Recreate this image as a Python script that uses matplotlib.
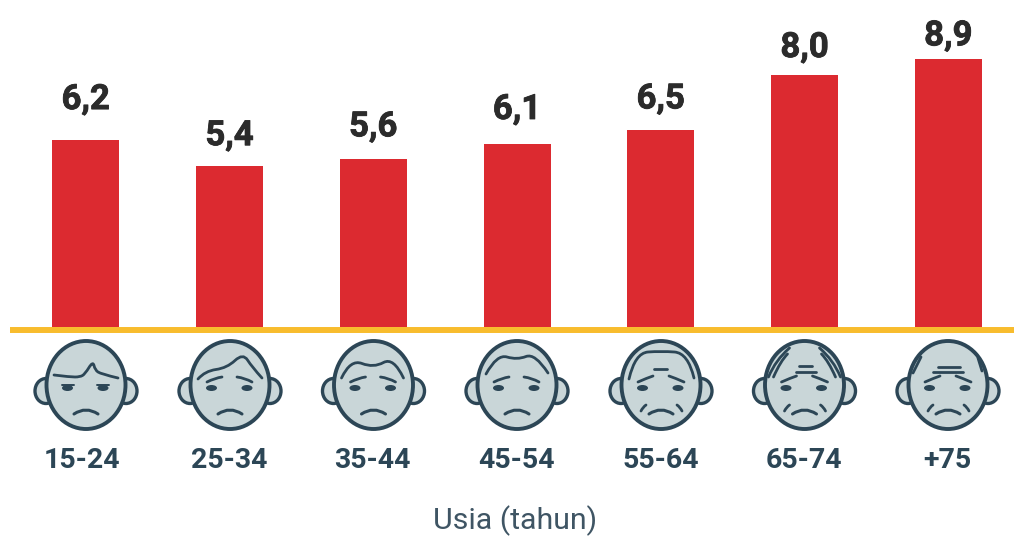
import matplotlib
matplotlib.use("Agg")
import matplotlib.pyplot as plt
import matplotlib.patheffects as pe
from matplotlib.patches import Ellipse, PathPatch
from matplotlib.path import Path

categories = ["15-24", "25-34", "35-44", "45-54", "55-64", "65-74", "+75"]
value_labels = ["6,2", "5,4", "5,6", "6,1", "6,5", "8,0", "8,9"]
# heights as drawn in the picture (the 8,0 bar is taller than its label says)
bar_heights = [6.21, 5.36, 5.57, 6.08, 6.53, 8.37, 8.89]
# gap between bar top and label baseline, pixels
label_gaps = [31, 20.5, 23, 25, 22, 18, 14]
# centres of the age labels, pixels
cat_x = [82, 229.5, 372.5, 516.5, 660.5, 804, 947]

RED = "#DC2A30"
YELLOW = "#F8BC2D"
DARK = "#2C4656"
SKIN = "#C9D6D8"

fig = plt.figure(figsize=(10.14, 5.38), dpi=100, facecolor="white")

# bars
ax = fig.add_axes([0, (538 - 327) / 538, 1, 327 / 538])
ax.bar(range(len(categories)), bar_heights, width=0.466, color=RED)
ax.set_xlim(-85.8 / 143.75, (1014 - 85.8) / 143.75)
ax.set_ylim(0, 327 / 30.1)
ax.axis("off")
for i, lab in enumerate(value_labels):
    ax.annotate(lab, (i, bar_heights[i]), xytext=(0, label_gaps[i] * 0.72),
                textcoords="offset points", ha="center", va="baseline",
                fontsize=25, fontweight="bold", family="Roboto", color="#2B2B2B",
                annotation_clip=False,
                path_effects=[pe.withStroke(linewidth=0.6, foreground="#2B2B2B")])

# overlay in pixel coordinates for baseline, faces and text
ov = fig.add_axes([0, 0, 1, 1], facecolor="none")
ov.set_xlim(0, 1014)
ov.set_ylim(538, 0)
ov.axis("off")
ov.plot([10, 1014], [330, 330], color=YELLOW, lw=4.3, solid_capstyle="butt")


def stroke(cx, cy, pts, lw=2.0):
    pts = [(cx + x, cy + y) for x, y in pts]
    if len(pts) == 2:
        verts, codes = pts, [Path.MOVETO, Path.LINETO]
    else:
        verts = [pts[0]]
        codes = [Path.MOVETO]
        for k in range(1, len(pts) - 1):
            if k < len(pts) - 2:
                end = ((pts[k][0] + pts[k + 1][0]) / 2, (pts[k][1] + pts[k + 1][1]) / 2)
            else:
                end = pts[-1]
            verts += [pts[k], end]
            codes += [Path.CURVE3, Path.CURVE3]
    ov.add_patch(PathPatch(Path(verts, codes), fill=False, ec=DARK, lw=lw,
                           capstyle="round", joinstyle="round", zorder=5))


# per face: hair and wrinkle strokes, local pixels from the face centre
young_brows = [[(-23, -3), (-15, -7), (-8, -8)], [(7, -8), (15, -7), (22, -3)]]
old_brows = [[(-23, -3), (-14, -7), (-8, -9)], [(8, -9), (14, -7), (23, -3)]]
cheeks = [[(-20, 26), (-18, 22), (-15, 20)], [(21, 26), (19, 22), (16, 20)]]
face_strokes = [
    [[(-32, -10), (-16, -8), (-6, -8), (-1, -11), (7, -24), (9, -15), (15, -11), (32, -7)]],
    [[(-32, -6), (-25, -14), (-3, -17), (13, -32), (22, -18), (32, -7)]] + young_brows,
    [[(-32, -7), (-23, -26), (0, -17), (20, -28), (30, -7)]] + young_brows,
    [[(-31, -11), (-20, -31), (0, -25), (18, -32), (31, -12)]] + young_brows,
    [[(-32, -6), (-26, -32), (0, -34), (27, -32), (33, -7)], [(-7, -16), (6, -16)]]
    + old_brows + cheeks,
    [[(-36, -8), (-29, -25), (-15, -37)], [(-31, -8), (-24, -24), (-17, -31)],
     [(36, -8), (29, -25), (15, -37)], [(31, -8), (24, -24), (17, -31)],
     [(-6, -19), (7, -19)], [(-9, -13), (11, -13)]]
    + old_brows + cheeks,
    [[(-35, -12), (-27, -28)], [(34, -14), (30, -27)],
     [(-10, -18), (12, -18)], [(-15, -13), (15, -13)]]
    + old_brows + cheeks,
]
face_x = [86, 230, 373.5, 517, 661, 804.5, 948]
FACE_Y = 385

for n, cx in enumerate(face_x):
    for side in (-1, 1):
        ov.add_patch(Ellipse((cx + side * 40, FACE_Y + 6), 22, 25, fc=SKIN, ec=DARK, lw=2.4, zorder=2))
    ov.add_patch(Ellipse((cx, FACE_Y), 79, 88, fc=SKIN, ec=DARK, lw=2.8, zorder=3))
    for pts in face_strokes[n]:
        stroke(cx, FACE_Y, pts)
    # eyes
    for ex in (-18.5, 17):
        ov.add_patch(Ellipse((cx + ex, FACE_Y + 3), 11, 6, fc=DARK, ec="none", zorder=5))
    if n == 0:
        stroke(cx, FACE_Y, [(-24, 0), (-12, 0)], lw=1.4)
        stroke(cx, FACE_Y, [(11, 0), (23, 0)], lw=1.4)
    # mouth
    stroke(cx, FACE_Y, [(-12, 29), (0, 21), (12, 29)], lw=2.2)
    # age label
    ov.text(cat_x[n], 467.5, categories[n], ha="center", va="baseline", fontsize=20.5,
            fontweight="bold", family="Roboto", color=DARK)

ov.text(515, 529, "Usia (tahun)", ha="center", va="baseline", fontsize=21.8,
        family="Roboto", color="#3F5564")

fig.savefig("out.png", dpi=100)
